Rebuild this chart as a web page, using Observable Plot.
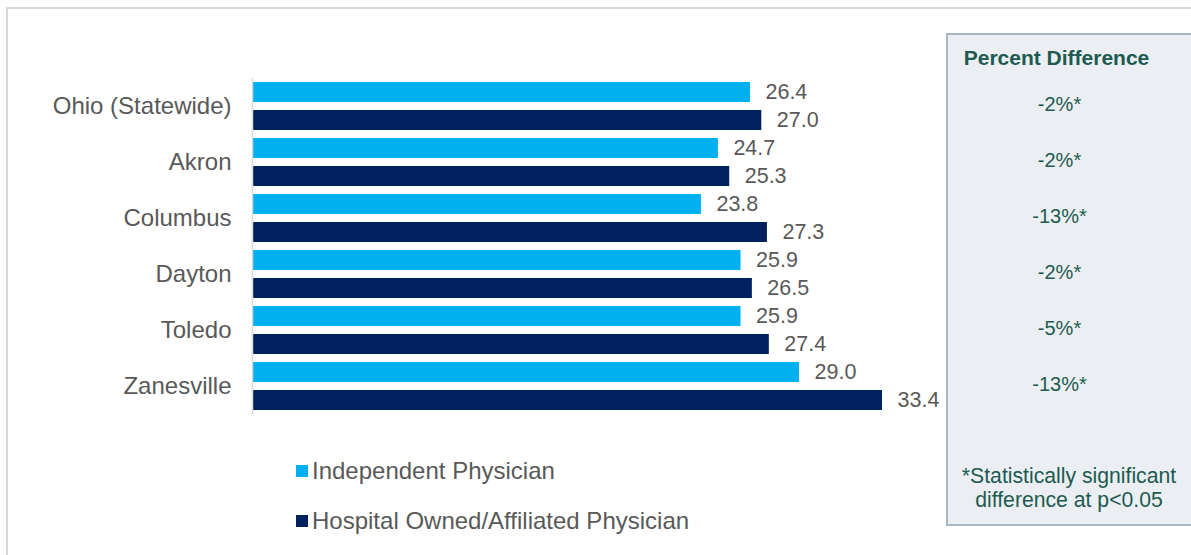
<!DOCTYPE html>
<html>
<head>
<meta charset="utf-8">
<script src="https://cdn.jsdelivr.net/npm/d3@7"></script>
<script src="https://cdn.jsdelivr.net/npm/@observablehq/plot@0.6"></script>
<style>
  html, body { margin: 0; padding: 0; background: #fff; }
  body { width: 1191px; height: 555px; position: relative; overflow: hidden; font-family: "Liberation Sans", Arial, sans-serif; }
  #frame { position: absolute; left: 6px; top: 7px; width: 1200px; height: 560px; border-left: 2px solid #d9d9d9; border-top: 2px solid #d9d9d9; }
  #panel { position: absolute; left: 946px; top: 33px; width: 260px; height: 489px; background: #ebeff3; border: 2px solid #a7b9c6; }
  #panelTitle { position: absolute; left: 946px; top: 45px; width: 221px; text-align: center; font-weight: bold; font-size: 21px; color: #1e5a50; line-height: 26px; }
  #footnote { position: absolute; left: 946px; top: 464px; width: 246px; text-align: center; font-size: 21.2px; color: #1e5a50; line-height: 24px; }
  #chart { position: absolute; left: 0; top: 0; }
  #legend { position: absolute; left: 296px; top: 456px; }
  .li { display: flex; align-items: center; height: 30px; margin-bottom: 20px; font-size: 24px; color: #595959; }
  .sw { width: 12px; height: 12px; margin-right: 4px; }
</style>
</head>
<body>
<div id="frame"></div>
<div id="panel"></div>
<div id="panelTitle"></div>
<div id="footnote"></div>
<div id="chart"></div>
<div id="legend"></div>
<script>
const categories = ["Ohio (Statewide)", "Akron", "Columbus", "Dayton", "Toledo", "Zanesville"];
const independent = [26.4, 24.7, 23.8, 25.9, 25.9, 29.0];
const hospital = [27.0, 25.3, 27.3, 26.5, 27.4, 33.4];
const pctDiff = ["-2%*", "-2%*", "-13%*", "-2%*", "-5%*", "-13%*"];
const seriesNames = ["Independent Physician", "Hospital Owned/Affiliated Physician"];
const seriesColors = ["#00b0f0", "#002060"];
const panelTitle = "Percent Difference";
const footnoteLines = ["*Statistically significant", "difference at p<0.05"];

const rows = categories.flatMap((c, i) => [
  {cat: c, series: seriesNames[0], value: independent[i]},
  {cat: c, series: seriesNames[1], value: hospital[i]}
]);
const diffRows = categories.map((c, i) => ({cat: c, diff: pctDiff[i]}));
const xmax = d3.max(rows, d => d.value);

const chart = Plot.plot({
  width: 1191,
  height: 555,
  marginTop: 77,
  marginBottom: 140,
  marginLeft: 252,
  marginRight: 132,
  style: {fontFamily: "'Liberation Sans', Arial, sans-serif", background: "transparent", color: "#595959"},
  x: {domain: [0, xmax], range: [252, 882], axis: null},
  y: {domain: seriesNames, axis: null, paddingInner: 0.3, paddingOuter: 0.15},
  fy: {domain: categories, padding: 0, axis: null},
  color: {domain: seriesNames, range: seriesColors},
  marks: [
    Plot.barX(rows, {fy: "cat", y: "series", x: "value", fill: "series"}),
    Plot.ruleX([0], {stroke: "#d9d9d9", strokeWidth: 1.5}),
    Plot.text(rows, {fy: "cat", y: "series", x: "value", text: d => d.value.toFixed(1), textAnchor: "start", dx: 15, fontSize: 21.5, fill: "#595959"}),
    Plot.text(diffRows, {fy: "cat", text: "diff", frameAnchor: "right", textAnchor: "middle", dy: -2, fontSize: 20, fill: "#1e5a50"}),
    Plot.axisFy({anchor: "left", tickSize: 0, tickPadding: 21, fontSize: 24, label: null, color: "#595959"})
  ]
});
document.getElementById("chart").appendChild(chart);

document.getElementById("panelTitle").textContent = panelTitle;
document.getElementById("footnote").innerHTML = footnoteLines.map(l => `<div>${l}</div>`).join("");

const legend = document.getElementById("legend");
seriesNames.forEach((name, i) => {
  const item = document.createElement("div");
  item.className = "li";
  const sw = document.createElement("span");
  sw.className = "sw";
  sw.style.background = seriesColors[i];
  const t = document.createElement("span");
  t.textContent = name;
  item.appendChild(sw);
  item.appendChild(t);
  legend.appendChild(item);
});
</script>
</body>
</html>
